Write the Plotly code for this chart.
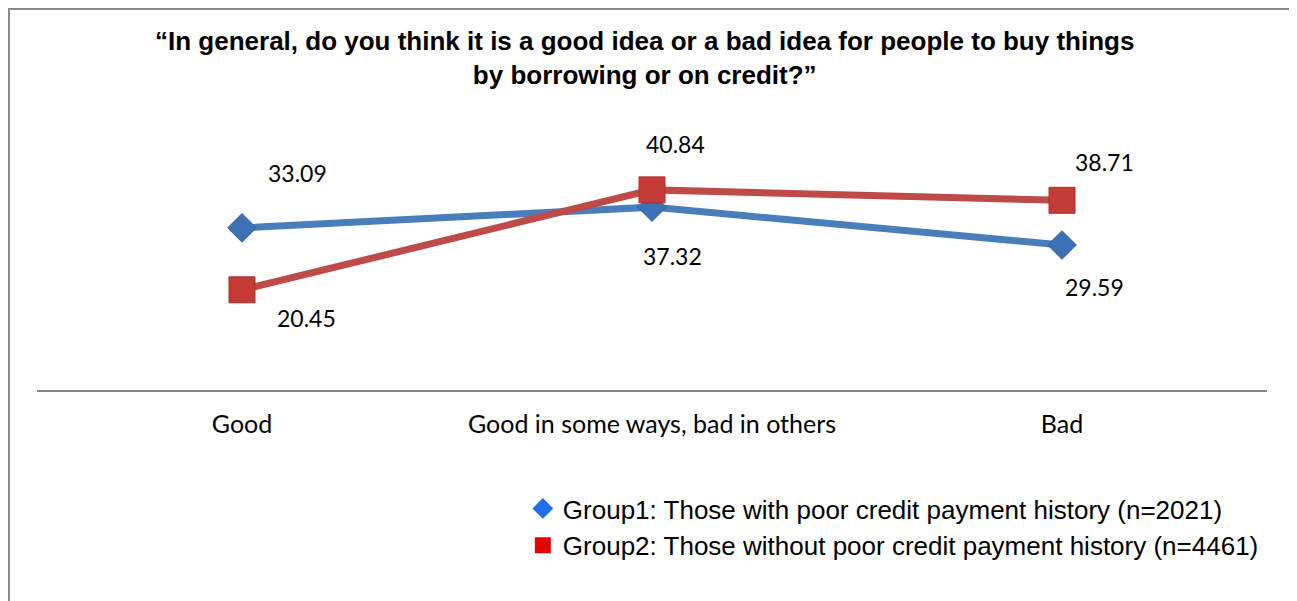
import plotly.graph_objects as go

categories = ["Good", "Good in some ways, bad in others", "Bad"]
group1_values = [33.09, 37.32, 29.59]
group2_values = [20.45, 40.84, 38.71]
group1_name = "Group1: Those with poor credit payment history (n=2021)"
group2_name = "Group2: Those without poor credit payment history (n=4461)"
title_text = "<b>“In general, do you think it is a good idea or a bad idea for people to buy things<br>by borrowing or on credit?”</b>"

# label offsets in pixels (styling)
g1_offsets = [(55, 55), (20, -49), (32, -42)]
g2_offsets = [(64, -28), (23, 46), (42, 38)]

fig = go.Figure()
fig.add_trace(go.Scatter(
    x=categories, y=group1_values, mode="lines+markers", showlegend=False,
    line=dict(color="#4A7EBB", width=7),
    marker=dict(symbol="diamond", size=22, color="#3C72B5", line=dict(color="#33619A", width=1)),
))
fig.add_trace(go.Scatter(
    x=categories, y=group2_values, mode="lines+markers", showlegend=False,
    line=dict(color="#BE4B48", width=7),
    marker=dict(symbol="square", size=26, color="#C33A37", line=dict(color="#A33230", width=1)),
))
# legend entries
fig.add_trace(go.Scatter(x=[None], y=[None], mode="markers", name=group1_name,
                         marker=dict(symbol="diamond", size=18, color="#1F6FEA")))
fig.add_trace(go.Scatter(x=[None], y=[None], mode="markers", name=group2_name,
                         marker=dict(symbol="square", size=16, color="#E80000")))

label_font = dict(family="Lato, Open Sans", size=23, color="black")
annotations = []
for c, v, (dx, dy) in zip(categories, group1_values, g1_offsets):
    annotations.append(dict(x=c, y=v, text=f"{v:.2f}", showarrow=False, xshift=dx, yshift=dy, font=label_font))
for c, v, (dx, dy) in zip(categories, group2_values, g2_offsets):
    annotations.append(dict(x=c, y=v, text=f"{v:.2f}", showarrow=False, xshift=dx, yshift=dy, font=label_font))
annotations.append(dict(x=0.4935, y=1.355, xref="paper", yref="paper", text=title_text, showarrow=False,
                        yanchor="middle", font=dict(family="Liberation Sans, Arial", size=26, color="black")))
fig.update_layout(annotations=annotations)

fig.update_layout(
    width=1297, height=601,
    margin=dict(l=29, r=38, t=137, b=219),
    paper_bgcolor="white", plot_bgcolor="white",
    xaxis=dict(type="category", range=[-0.5, 2.5], showline=True, linecolor="#868686", linewidth=1.5,
               showgrid=False, ticks="", ticklabelstandoff=11,
               tickfont=dict(family="Lato, Open Sans", size=25, color="black")),
    yaxis=dict(range=[0, 50], visible=False, showgrid=False, zeroline=False),
    legend=dict(x=0.395, y=-0.388, xanchor="left", yanchor="top",
                font=dict(family="Liberation Sans, Arial", size=26, color="black"),
                itemsizing="trace", tracegroupgap=0, bgcolor="rgba(0,0,0,0)"),
    shapes=[dict(type="rect", xref="paper", yref="paper", x0=-0.0228, x1=1.0228, y0=-0.9, y1=1.555,
                 line=dict(color="#8A8A8A", width=2), fillcolor="rgba(0,0,0,0)", layer="below")],
)

fig.write_html("out.html")
